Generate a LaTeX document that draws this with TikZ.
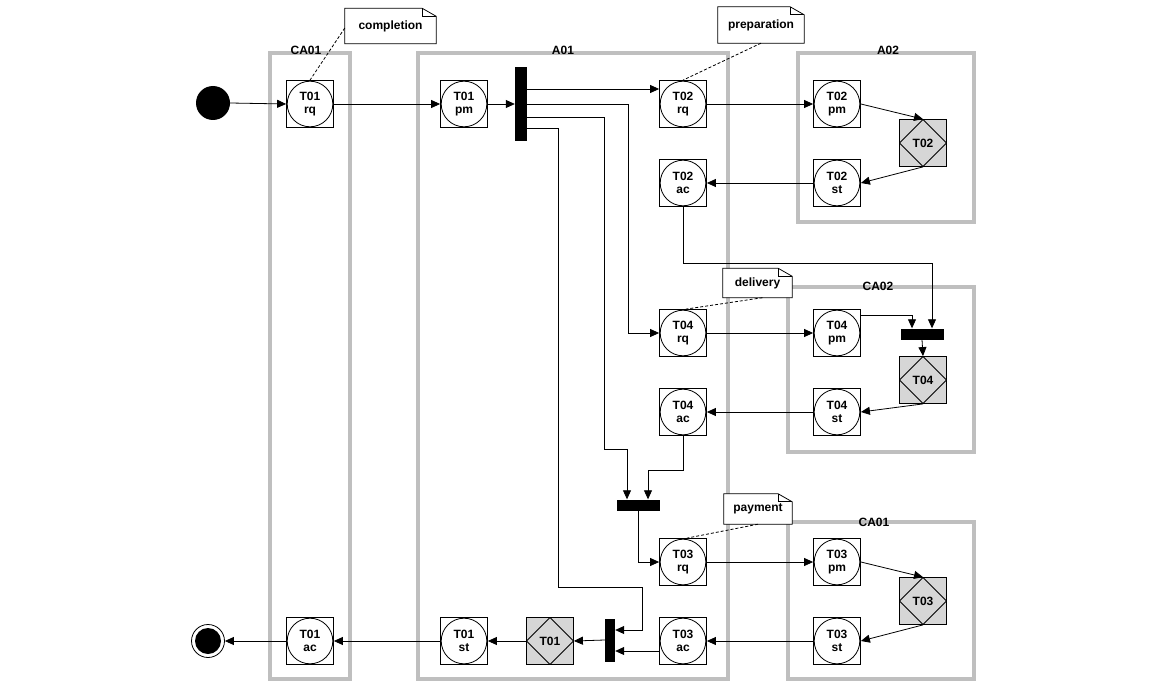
\documentclass[tikz,border=0pt]{standalone}
\usepackage{fontspec}
\setmainfont{Liberation Sans}
\usetikzlibrary{arrows.meta,calc}
\newcommand\drawnote[1]{%
  \draw[line width=0.8pt,fill=white] (#1.south west) -- (#1.north west) -- ([xshift=-14pt]#1.north east) -- ([yshift=-8pt]#1.north east) -- (#1.south east) -- cycle;
  \draw[line width=0.8pt] ([xshift=-14pt]#1.north east) -- ([xshift=-14pt,yshift=-8pt]#1.north east) -- ([yshift=-8pt]#1.north east);}
\begin{document}
\begin{tikzpicture}[x=1pt,y=-1pt,
  font=\bfseries\fontsize{12}{13.5}\selectfont,
  lane/.style={draw=black!25,line width=3.5pt},
  lanelabel/.style={anchor=base,inner sep=0pt},
  act/.style={draw,line width=0.8pt,minimum size=47pt,inner sep=0pt,align=center,fill=white,
     path picture={\draw[line width=0.8pt] (path picture bounding box.center) circle (22.8pt);}},
  gate/.style={draw,line width=0.8pt,fill=black!16,minimum size=47pt,inner sep=0pt,
     path picture={\draw[line width=0.8pt] (path picture bounding box.north) -- (path picture bounding box.east) -- (path picture bounding box.south) -- (path picture bounding box.west) -- cycle;}},
  bar/.style={fill=black,inner sep=0pt},
  notebox/.style={inner sep=0pt},
  arr/.style={-{Triangle[length=9pt,width=8pt]},line width=0.8pt},
  dashline/.style={dashed,dash pattern=on 3pt off 2pt,line width=0.8pt}
]
\useasboundingbox (0,0) rectangle (1170,682);
% lanes
\draw[lane] (270,53) rectangle (350,679);
\draw[lane] (418,53) rectangle (728,679);
\draw[lane] (798,53) rectangle (974,222);
\draw[lane] (788,287) rectangle (974,452);
\draw[lane] (788,522) rectangle (974,679);
\node[lanelabel] (lca01) at (306,55) {CA01};
\node[lanelabel] (la01) at (563,55) {A01};
\node[lanelabel] (la02) at (888,55) {A02};
\node[lanelabel] (lca02) at (878,290) {CA02};
\node[lanelabel] (lca01b) at (874,526) {CA01};

% start / end
\node[circle,fill=black,minimum size=34pt,inner sep=0pt] (start) at (213,103) {};
\node[circle,draw,line width=0.8pt,minimum size=33pt,inner sep=0pt] (endc) at (208,641) {};
\fill (endc.center) circle (13pt);

% activities
\node[act] (t01rq) at (310,104) {T01\\rq};
\node[act] (t01pm) at (464,104) {T01\\pm};
\node[act] (t02rq) at (683,104) {T02\\rq};
\node[act] (t02pm) at (837,104) {T02\\pm};
\node[gate] (g02) at (923,143) {T02};
\node[act] (t02st) at (837,183) {T02\\st};
\node[act] (t02ac) at (683,183) {T02\\ac};
\node[act] (t04rq) at (683,333) {T04\\rq};
\node[act] (t04pm) at (837,333) {T04\\pm};
\node[gate] (g04) at (923,380) {T04};
\node[act] (t04st) at (837,412) {T04\\st};
\node[act] (t04ac) at (683,412) {T04\\ac};
\node[act] (t03rq) at (683,562) {T03\\rq};
\node[act] (t03pm) at (837,562) {T03\\pm};
\node[gate] (g03) at (923,601) {T03};
\node[act] (t03st) at (837,641) {T03\\st};
\node[act] (t03ac) at (683,641) {T03\\ac};
\node[gate] (g01) at (550,641) {T01};
\node[act] (t01st) at (464,641) {T01\\st};
\node[act] (t01ac) at (310,641) {T01\\ac};

% bars
\node[bar,minimum width=12pt,minimum height=74pt] (fork1) at (521,104) {};
\node[bar,minimum width=43pt,minimum height=11pt] (join2) at (922,334) {};
\node[bar,minimum width=43pt,minimum height=11pt] (join3) at (638,505) {};
\node[bar,minimum width=10pt,minimum height=43pt] (join4) at (610,640) {};

% notes
\node[notebox,minimum width=91pt,minimum height=35pt] (ncomp) at (390.5,26) {};
\drawnote{ncomp}
\node at (ncomp) {completion};
\node[notebox,minimum width=86pt,minimum height=36pt] (nprep) at (761,25) {};
\drawnote{nprep}
\node at (nprep) {preparation};
\node[notebox,minimum width=69pt,minimum height=29pt] (ndel) at (757.5,283) {};
\drawnote{ndel}
\node at (ndel) {delivery};
\node[notebox,minimum width=68pt,minimum height=30pt] (npay) at (758,509) {};
\drawnote{npay}
\node at (npay) {payment};
\draw[dashline] ([yshift=-2pt]ncomp.west) -- (t01rq.north);
\draw[dashline] (nprep.south) -- (t02rq.north);
\draw[dashline] ([xshift=5pt]ndel.south) -- ([xshift=3pt]t04rq.north);
\draw[dashline] (npay.south) -- ([xshift=4pt]t03rq.north);

% connectors
\draw[arr] (start.east) -- (t01rq.west);
\draw[arr] (t01rq.east) -- (t01pm.west);
\draw[arr] (t01pm.east) -- (fork1.west);
\draw[arr] (fork1.east |- 0,89) -- (t02rq.west |- 0,89);
\draw[arr] (fork1.east) -| ([xshift=-31pt]t04rq.west) -- (t04rq.west);
\draw[arr] (fork1.east |- 0,117) -- (604,117) -- (604,449) -| ([xshift=-11pt]join3.north);
\draw[arr] (fork1.east |- 0,128) -- (558,128) -- (558,587) -- (642,587) -- (642,630) -- (join4.east |- 0,630);
\draw[arr] (t02rq.east) -- (t02pm.west);
\draw[arr] (t02pm.east) -- (g02.north);
\draw[arr] (g02.south) -- (t02st.east);
\draw[arr] (t02st.west) -- (t02ac.east);
\draw[arr] (t02ac.south) -- ++(0,56) -| ([xshift=10pt]join2.north);
\draw[arr] (t04rq.east) -- (t04pm.west);
\draw[arr] ([yshift=18pt]t04pm.east) -| ([xshift=-10pt]join2.north);
\draw[arr] (join2.south) -- (g04.north);
\draw[arr] (g04.south) -- (t04st.east);
\draw[arr] (t04st.west) -- (t04ac.east);
\draw[arr] (t04ac.south) -- ++(0,34) -| ([xshift=10pt]join3.north);
\draw[arr] (join3.south) |- (t03rq.west);
\draw[arr] (t03rq.east) -- (t03pm.west);
\draw[arr] (t03pm.east) -- (g03.north);
\draw[arr] (g03.south) -- (t03st.east);
\draw[arr] (t03st.west) -- (t03ac.east);
\draw[arr] ([yshift=-10pt]t03ac.west) -- (join4.east |- 0,651);
\draw[arr] (join4.west) -- (g01.east);
\draw[arr] (g01.west) -- (t01st.east);
\draw[arr] (t01st.west) -- (t01ac.east);
\draw[arr] (t01ac.west) -- (endc.east);
\end{tikzpicture}
\end{document}
